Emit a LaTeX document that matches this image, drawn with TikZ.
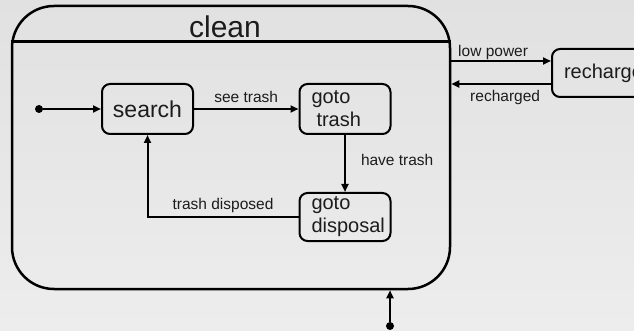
\documentclass[tikz,border=0pt]{standalone}
\usepackage{fontspec}
\setmainfont{Liberation Sans}
\usetikzlibrary{arrows.meta,calc}

\definecolor{ink}{HTML}{1C1C1C}
\definecolor{bgtop}{HTML}{E1E1E1}
\definecolor{bgbot}{HTML}{EDEDED}

\tikzset{
  every picture/.style={x=1pt,y=-1pt},
  statebox/.style={draw=black, line width=2pt, rounded corners=8pt,
    text=ink, font=\fontsize{20}{23}\selectfont},
  multibox/.style={statebox, align=left, inner xsep=12pt, inner ysep=0pt},
  superbox/.style={draw=black, line width=2.5pt, rounded corners=42pt,
    minimum width=438pt, minimum height=283pt, inner sep=0pt},
  pseudo/.style={circle, fill=black, inner sep=0pt, minimum size=8pt},
  trans/.style={line width=2pt, -{Triangle[length=8pt,width=7pt]}},
  trlabel/.style={font=\fontsize{15.5}{18}\selectfont, text=ink, inner sep=0pt},
}

\begin{document}
\begin{tikzpicture}
  % canvas and soft vertical gradient
  \path[use as bounding box] (0,0) rectangle (634,331);
  \clip (0,0) rectangle (634,331);
  \shade[top color=bgtop, bottom color=bgbot] (0,0) rectangle (634,331);

  % composite state "clean"
  \node[superbox] (clean) at (231,147.5) {};
  \node[font=\fontsize{30}{34}\selectfont, text=ink, anchor=base, inner sep=0pt]
    (title) at (225,38) {clean};
  \coordinate (divL) at ($(clean.north west)+(0,37)$);
  \coordinate (divR) at ($(clean.north east)+(0,37)$);
  \draw[line width=2.5pt] (divL) -- (divR);

  % substates
  \node[statebox, minimum width=91pt, minimum height=50pt,
        font=\fontsize{23}{26}\selectfont] (search) at (147.5,109) {search};
  \node[multibox, text width=67pt, minimum height=50pt]
    (gototrash) at (345,109) {goto\\\hspace*{5pt}trash};
  \node[multibox, text width=67pt, minimum height=48pt]
    (gotodisp) at (345,217) {goto\\disposal};

  % outer state
  \node[multibox, text width=84pt, minimum height=48pt]
    (recharge) at (606,73) {recharge};

  % initial pseudostates
  \node[pseudo] (init) at (39,109) {};
  \node[pseudo] (entry) at (390,326) {};

  % transitions inside clean
  \draw[trans] (init) -- (search);
  \draw[trans] (search) -- node[trlabel, anchor=base, yshift=6pt] (lblsee) {see trash} (gototrash);
  \draw[trans] (gototrash) -- node[trlabel, anchor=base west, xshift=15pt, yshift=-2.5pt] (lblhave) {have trash} (gotodisp);
  \draw[trans] (gotodisp.west) -| node[pos=0.25, trlabel, anchor=base, yshift=8pt] (lbldisp) {trash disposed} (search.south);

  % transitions between clean and recharge
  \coordinate (lpR) at ($(recharge.west)+(0,-12)$);
  \coordinate (lpL) at (clean.east |- lpR);
  \coordinate (rcR) at ($(recharge.west)+(0,11)$);
  \coordinate (rcL) at (clean.east |- rcR);
  \draw[trans] (lpL) -- node[trlabel, anchor=base, xshift=-8pt, yshift=4pt] (lbllow) {low power} (lpR);
  \draw[trans] (rcR) -- node[trlabel, anchor=base, xshift=4pt, yshift=-18pt] (lblrec) {recharged} (rcL);

  % entry into clean from below
  \draw[trans] (entry) -- (entry |- clean.south);
\end{tikzpicture}
\end{document}
